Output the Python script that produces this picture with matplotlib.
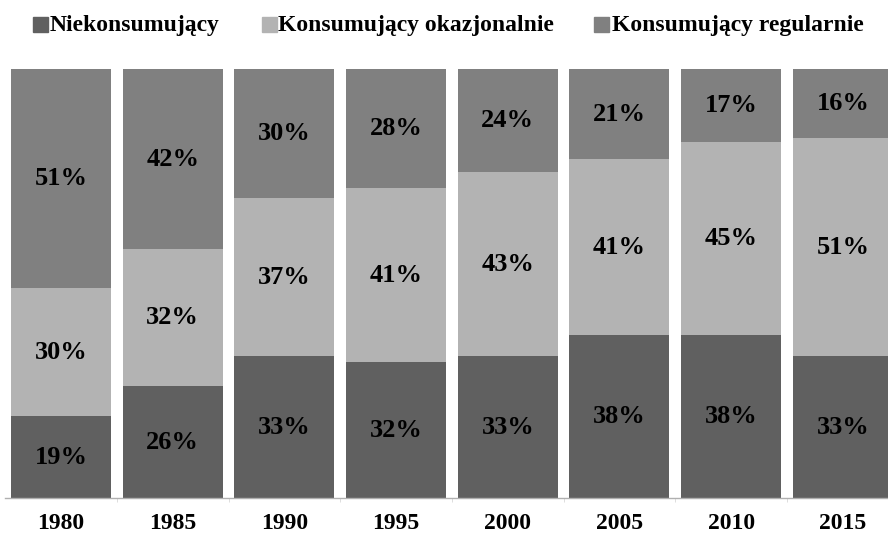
import numpy as np
import matplotlib.pyplot as plt
from matplotlib.patches import Rectangle

years = ["1980", "1985", "1990", "1995", "2000", "2005", "2010", "2015"]
niekonsumujacy = [19, 26, 33, 32, 33, 38, 38, 33]
okazjonalnie = [30, 32, 37, 41, 43, 41, 45, 51]
regularnie = [51, 42, 30, 28, 24, 21, 17, 16]
series_names = ["Niekonsumujący", "Konsumujący okazjonalnie", "Konsumujący regularnie"]
colors = ["#606060", "#b3b3b3", "#808080"]

plt.rcParams['font.family'] = ['Liberation Serif', 'DejaVu Serif']

fig = plt.figure(figsize=(8.88, 5.37), dpi=100)
ax = fig.add_axes([5 / 888, 1 - 498 / 537, 883 / 888, 429 / 537])

data = np.array([niekonsumujacy, okazjonalnie, regularnie], dtype=float)
shares = data / data.sum(axis=0) * 100  # 100% stacked, like the original
x = np.arange(len(years))
bottom = np.zeros(len(years))
for i in range(3):
    ax.bar(x, shares[i], bottom=bottom, width=0.895, color=colors[i], linewidth=0)
    for j in range(len(years)):
        ax.text(x[j], bottom[j] + shares[i][j] / 2, f"{int(data[i][j])}%",
                ha='center', va='center', fontsize=19, fontweight='bold', color='black')
    bottom += shares[i]

ax.set_xlim(-0.501, 7.404)
ax.set_ylim(0, 100)
for s in ['top', 'right', 'left']:
    ax.spines[s].set_visible(False)
ax.spines['bottom'].set_color('#b0b0b0')
ax.spines['bottom'].set_linewidth(1)
ax.set_yticks([])
ax.set_xticks(x)
ax.set_xticklabels(years, fontsize=17, fontweight='bold')
ax.tick_params(axis='x', length=0, pad=11)
ax.set_xticks(x[:-1] + 0.5, minor=True)
ax.tick_params(axis='x', which='minor', length=3, color='#d8d8d8')

# legend drawn by hand to match the layout
leg_x = [(33, 50), (262, 278), (594, 612)]
for (sx, tx), name, c in zip(leg_x, series_names, colors):
    fig.patches.append(Rectangle((sx / 888, 1 - 32 / 537), 15 / 888, 15 / 537,
                                 transform=fig.transFigure, color=c, figure=fig))
    fig.text(tx / 888, 1 - 25 / 537, name, ha='left', va='center',
             fontsize=17, fontweight='bold')

fig.savefig("out.png", dpi=100)
